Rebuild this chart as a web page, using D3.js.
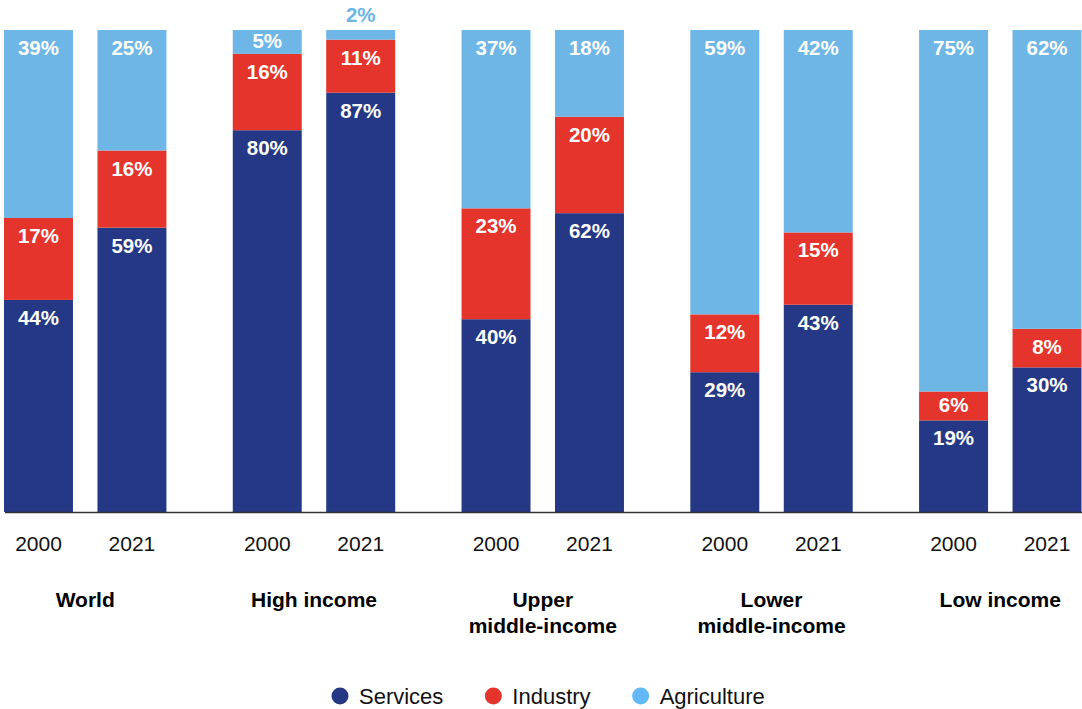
<!DOCTYPE html>
<html>
<head>
<meta charset="utf-8">
<script src="https://cdn.jsdelivr.net/npm/d3@7"></script>
<style>
  html, body { margin: 0; padding: 0; background: #fff; }
  svg { display: block; font-family: "Liberation Sans", Arial, Helvetica, sans-serif; }
</style>
</head>
<body>
<svg id="chart" width="1082" height="709"></svg>
<script>
// ---- Data ----
const groups = ["World", "High income", "Upper middle-income", "Lower middle-income", "Low income"];
const groupLabelLines = [["World"], ["High income"], ["Upper", "middle-income"], ["Lower", "middle-income"], ["Low income"]];
const years = ["2000", "2021"];
// order: World 2000, World 2021, High 2000, High 2021, Upper 2000, Upper 2021, Lower 2000, Lower 2021, Low 2000, Low 2021
const services    = [44, 59, 80, 87, 40, 62, 29, 43, 19, 30];
const industry    = [17, 16, 16, 11, 23, 20, 12, 15,  6,  8];
const agriculture = [39, 25,  5,  2, 37, 18, 59, 42, 75, 62];
const seriesNames = ["Services", "Industry", "Agriculture"];
const seriesColors = ["#253885", "#e5342b", "#6db6e6"];
const legendColors = ["#253885", "#e5342b", "#62b9f5"];

// ---- Build table ----
const rows = [];
groups.forEach((g, gi) => {
  years.forEach((yr, yi) => {
    const i = gi * years.length + yi;
    rows.push({ group: g, year: yr, Services: services[i], Industry: industry[i], Agriculture: agriculture[i] });
  });
});

const svg = d3.select("#chart");
const plotTop = 30, plotBase = 512;

const x0 = d3.scaleBand().domain(groups).range([4, 1081.5]).paddingInner(0.29).paddingOuter(0);
const x1 = d3.scaleBand().domain(years).range([0, x0.bandwidth()]).paddingInner(0.262).paddingOuter(0);
const yScale = d3.scaleLinear().domain([0, 1]).range([plotBase, plotTop]);
const color = d3.scaleOrdinal().domain(seriesNames).range(seriesColors);

const stack = d3.stack().keys(seriesNames).offset(d3.stackOffsetExpand);
const stacked = stack(rows);

// Bars
const layer = svg.append("g").selectAll("g.series").data(stacked).join("g")
  .attr("class", "series").attr("fill", d => color(d.key));

layer.selectAll("rect").data(d => d.map(p => ({ key: d.key, p }))).join("rect")
  .attr("x", d => x0(d.p.data.group) + x1(d.p.data.year))
  .attr("width", x1.bandwidth())
  .attr("y", d => yScale(d.p[1]))
  .attr("height", d => yScale(d.p[0]) - yScale(d.p[1]));

// Value labels
const labelData = [];
stacked.forEach(s => {
  s.forEach(p => {
    const yt = yScale(p[1]), yb = yScale(p[0]);
    labelData.push({ key: s.key, value: p.data[s.key], cx: x0(p.data.group) + x1(p.data.year) + x1.bandwidth() / 2, yt: yt, h: yb - yt });
  });
});
svg.append("g").selectAll("text").data(labelData).join("text")
  .attr("x", d => d.cx)
  .attr("y", d => d.h < 16 ? d.yt - 8 : d.yt + Math.min(25, d.h / 2 + 6.5))
  .attr("text-anchor", "middle")
  .attr("font-size", 20.5)
  .attr("font-weight", "bold")
  .attr("fill", d => d.h < 16 ? color(d.key) : "#ffffff")
  .text(d => d.value + "%");

// Baseline axis
svg.append("line").attr("x1", 5).attr("x2", 1082).attr("y1", plotBase + 0.5).attr("y2", plotBase + 0.5)
  .attr("stroke", "#333").attr("stroke-width", 1.5);

// Year labels
const yearLabels = [];
groups.forEach(g => years.forEach(yr => yearLabels.push({ g, yr })));
svg.append("g").selectAll("text").data(yearLabels).join("text")
  .attr("x", d => x0(d.g) + x1(d.yr) + x1.bandwidth() / 2)
  .attr("y", 551)
  .attr("text-anchor", "middle")
  .attr("font-size", 21)
  .attr("fill", "#111")
  .text(d => d.yr);

// Group labels
const gl = svg.append("g").selectAll("text").data(groups).join("text")
  .attr("x", d => x0(d) + x0.bandwidth() / 2)
  .attr("y", 607)
  .attr("text-anchor", "middle")
  .attr("font-size", 21)
  .attr("font-weight", "bold")
  .attr("fill", "#000");
gl.selectAll("tspan").data((d, i) => groupLabelLines[i]).join("tspan")
  .attr("x", function() { return d3.select(this.parentNode).attr("x"); })
  .attr("dy", (d, i) => i === 0 ? 0 : 26)
  .text(d => d);

// Legend
const legend = svg.append("g");
let cx = 0;
const items = legend.selectAll("g").data(seriesNames).join("g");
items.append("circle").attr("r", 8.5).attr("cy", 0).attr("fill", (d, i) => legendColors[i]);
items.append("text").attr("x", 19).attr("y", 8).attr("font-size", 22).attr("fill", "#111").text(d => d);
items.each(function() {
  const g = d3.select(this);
  g.attr("transform", `translate(${cx},0)`);
  const w = g.select("text").node().getComputedTextLength();
  cx += 19 + w + 50;
});
legend.attr("transform", "translate(340,696)");
</script>
</body>
</html>
